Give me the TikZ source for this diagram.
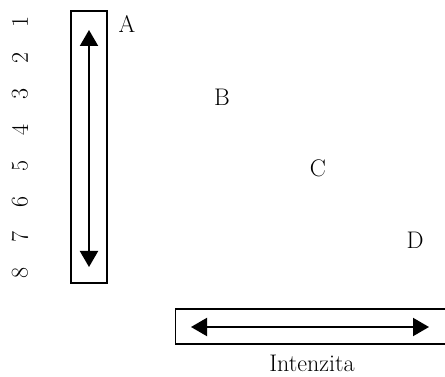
\documentclass[tikz,border=0pt]{standalone}
\usetikzlibrary{arrows.meta}
\begin{document}
\begin{tikzpicture}[x=1pt,y=-1pt,
  lbl/.style={font=\fontsize{24}{28}\selectfont, inner sep=0pt},
  num/.style={lbl, rotate=90},
  frame/.style={draw, line width=1.4pt},
  dbl/.style={line width=2pt, {Triangle[width=18pt,length=16pt]}-{Triangle[width=18pt,length=16pt]}}]
  \clip (0,0) rectangle (445,377);
  \useasboundingbox (0,0) rectangle (445,377);

  % vertical scale with numbers
  \foreach \i [count=\k from 0] in {1,...,8}
    \node[num] (n\i) at (20,{22+35.9*\k}) {\i};
  \node[frame, minimum width=36pt, minimum height=272pt, inner sep=0pt] (vbox) at (89,147) {};
  \coordinate (vtop) at (89,30);
  \coordinate (vbot) at (89,267);
  \draw[dbl] (vtop) -- (vbot);

  % letters
  \node[lbl] (A) at (127,24) {A};
  \node[lbl] (B) at (222,97) {B};
  \node[lbl] (C) at (318,168) {C};
  \node[lbl] (D) at (415,240) {D};

  % horizontal intensity bar
  \node[frame, minimum width=276pt, minimum height=35pt, inner sep=0pt, anchor=west] (hbox) at (175,326.5) {};
  \coordinate (hl) at (191,327);
  \coordinate (hr) at (429,327);
  \draw[dbl] (hl) -- (hr);
  \node[lbl] (int) at (312,363) {Intenzita};
\end{tikzpicture}
\end{document}
